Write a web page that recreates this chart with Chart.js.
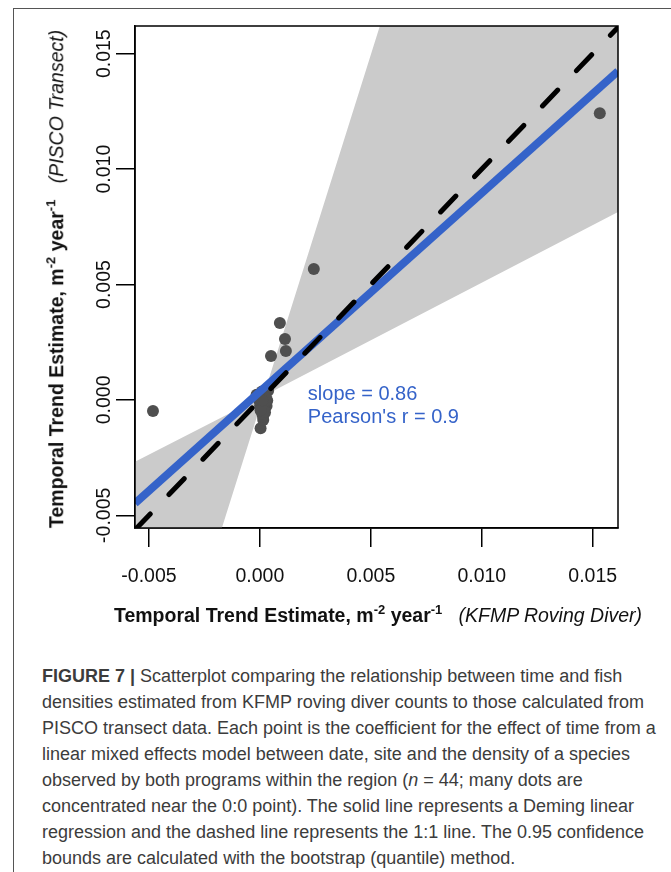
<!DOCTYPE html>
<html>
<head>
<meta charset="utf-8">
<script src="https://cdn.jsdelivr.net/npm/chart.js@4.4.1/dist/chart.umd.min.js"></script>
<style>
  html, body { margin: 0; padding: 0; background: #fff; }
  body { width: 671px; height: 872px; position: relative; overflow: hidden;
         font-family: "Liberation Sans", Arial, sans-serif; }
  #frame { position: absolute; left: 13px; top: 8px; width: 720px; height: 900px;
           border-left: 1px solid #555; border-top: 1px solid #555; }
  #wrap { position: absolute; left: 0; top: 0; width: 671px; height: 640px; }
  .ttl { position: absolute; white-space: nowrap; font-size: 19.5px; color: #111;
         transform: translate(-50%, -50%); line-height: 1; }
  .ttl b { font-weight: bold; }
  .ttl i { font-style: italic; font-weight: normal; }
  .ttl sup { font-size: 13px; vertical-align: 0; position: relative; top: -8px; }
  #ytitle { left: 57px; top: 279px; transform: translate(-50%, -50%) rotate(-90deg); }
  #xtitle { left: 378px; top: 616px; }
  #caption { position: absolute; left: 42px; top: 663px; font-size: 18px; line-height: 26px;
             color: #3c3c3c; white-space: nowrap; }
</style>
</head>
<body>
<div id="frame"></div>
<div id="wrap"><canvas id="chart" width="671" height="640"></canvas></div>
<div class="ttl" id="ytitle"><b>Temporal Trend Estimate, m<sup>-2</sup> year<sup>-1</sup></b>&nbsp;&nbsp;&nbsp;<i>(PISCO Transect)</i></div>
<div class="ttl" id="xtitle"><b>Temporal Trend Estimate, m<sup>-2</sup> year<sup>-1</sup></b>&nbsp;&nbsp;&nbsp;<i>(KFMP Roving Diver)</i></div>
<div id="caption"><b>FIGURE 7 |</b> Scatterplot comparing the relationship between time and fish<br>densities estimated from KFMP roving diver counts to those calculated from<br>PISCO transect data. Each point is the coefficient for the effect of time from a<br>linear mixed effects model between date, site and the density of a species<br>observed by both programs within the region (<i>n</i> = 44; many dots are<br>concentrated near the 0:0 point). The solid line represents a Deming linear<br>regression and the dashed line represents the 1:1 line. The 0.95 confidence<br>bounds are calculated with the bootstrap (quantile) method.</div>

<script>
// Species trend coefficients: KFMP roving diver (x) vs PISCO transect (y)
const kfmpTrend = [
  -0.00482, 0.01532, 0.00243, 0.00090, 0.00113, 0.00117, 0.00050,
  0.00003, 0.00015, 0.00023, 0.00030, 0.00033, 0.00008, -0.00015,
  0.00037, 0.00009, -0.00009, 0.00023, 0.00014, 0.00014,
  0.00002, -0.00003, 0.00010, 0.00005, 0.00012, 0.00020, 0.00000,
  0.00006, 0.00018, -0.00006, 0.00011, 0.00025, 0.00004, 0.00016,
  0.00001, 0.00021, 0.00008, 0.00013, -0.00002, 0.00019, 0.00007,
  0.00027, 0.00003, 0.00010
];
const piscoTrend = [
  -0.00048, 0.01242, 0.00567, 0.00333, 0.00264, 0.00212, 0.00190,
  -0.00123, -0.00087, -0.00055, -0.00026, -0.00003, 0.00014, 0.00022,
  0.00040, 0.00036, 0.00014, -0.00013, -0.00043, -0.00072,
  0.00005, 0.00010, -0.00010, -0.00020, 0.00002, -0.00030, -0.00005,
  0.00015, -0.00040, 0.00004, -0.00060, -0.00008, -0.00015, 0.00020,
  -0.00025, 0.00008, -0.00035, -0.00018, 0.00000, -0.00050, 0.00025,
  0.00010, -0.00045, -0.00002
];

// Deming regression line (slope 0.86) across the plotted x range
const demingX = [-0.00563, 0.01614];
const demingY = [-0.00448, 0.01424];

// 1:1 reference line
const oneToOneX = [-0.00563, 0.01620];
const oneToOneY = [-0.00563, 0.01620];

// Bootstrap (quantile) 0.95 confidence bounds
const bandX     = [-0.00563, 0.00016, 0.01614];
const bandUpper = [-0.00268, 0.00017, 0.04900];
const bandLower = [-0.01750, 0.00017, 0.00814];

// Axis limits and tick values
const xLimits = [-0.00563, 0.01614];
const yLimits = [-0.00555, 0.01620];
const xTickValues = [-0.005, 0.000, 0.005, 0.010, 0.015];
const yTickValues = [-0.005, 0.000, 0.005, 0.010, 0.015];

const fitStats = ['slope = 0.86', "Pearson's r = 0.9"];

const zip = (xs, ys) => xs.map((x, i) => ({ x: x, y: ys[i] }));
const FONT = '"Liberation Sans", Arial, sans-serif';
const BLUE = '#3563c9';

// Closed box around the plotting region
const plotBox = {
  id: 'plotBox',
  afterDatasetsDraw(chart) {
    const a = chart.chartArea, ctx = chart.ctx;
    ctx.save();
    ctx.strokeStyle = '#000';
    ctx.lineWidth = 1.5;
    ctx.strokeRect(a.left, a.top, a.right - a.left, a.bottom - a.top);
    ctx.restore();
  }
};

// Fit summary written inside the plot
const fitLabel = {
  id: 'fitLabel',
  afterDatasetsDraw(chart) {
    const ctx = chart.ctx, xs = chart.scales.x, ys = chart.scales.y;
    ctx.save();
    ctx.font = '20px ' + FONT;
    ctx.fillStyle = BLUE;
    ctx.textAlign = 'left';
    ctx.textBaseline = 'middle';
    const x0 = xs.getPixelForValue(0.00216);
    ctx.fillText(fitStats[0], x0, ys.getPixelForValue(0.00022));
    ctx.fillText(fitStats[1], x0, ys.getPixelForValue(-0.00078));
    ctx.restore();
  }
};

const tickFmt = v => Number(v).toFixed(3);

new Chart(document.getElementById('chart'), {
  type: 'line',
  data: {
    datasets: [
      { label: 'upper bound', data: zip(bandX, bandUpper), borderWidth: 0,
        borderColor: 'rgba(0,0,0,0)', pointRadius: 0, fill: '+1',
        backgroundColor: '#cbcbcb', order: 5, clip: 0, tension: 0 },
      { label: 'lower bound', data: zip(bandX, bandLower), borderWidth: 0,
        borderColor: 'rgba(0,0,0,0)', pointRadius: 0, fill: false, order: 4, clip: 0 },
      { label: 'species', data: zip(kfmpTrend, piscoTrend), showLine: false,
        pointRadius: 6, pointBackgroundColor: '#4f4f4f', pointBorderWidth: 0,
        order: 3, clip: 0 },
      { label: 'Deming fit', data: zip(demingX, demingY), borderColor: BLUE,
        borderWidth: 8, pointRadius: 0, fill: false, order: 2, clip: 0 },
      { label: '1:1', data: zip(oneToOneX, oneToOneY), borderColor: '#000',
        borderWidth: 5, borderDash: [22, 27], borderCapStyle: 'round',
        pointRadius: 0, fill: false, order: 1, clip: 0 }
    ]
  },
  options: {
    responsive: false,
    animation: false,
    events: [],
    layout: { padding: { left: 0, top: 26, right: 53, bottom: 0 } },
    plugins: { legend: { display: false }, tooltip: { enabled: false } },
    scales: {
      x: {
        type: 'linear', min: xLimits[0], max: xLimits[1],
        afterBuildTicks: s => { s.ticks = xTickValues.map(v => ({ value: v })); },
        afterFit: s => { s.height = 112; },
        ticks: { callback: tickFmt, font: { family: FONT, size: 19.5 }, color: '#111',
                 padding: 18, maxRotation: 0, autoSkip: false },
        grid: { display: true, drawOnChartArea: false, drawTicks: true,
                tickLength: 19, color: '#000', lineWidth: 1.5 },
        border: { display: true, color: '#000', width: 1.5 }
      },
      y: {
        type: 'linear', min: yLimits[0], max: yLimits[1],
        afterBuildTicks: s => { s.ticks = yTickValues.map(v => ({ value: v })); },
        afterFit: s => { s.width = 135; },
        ticks: { callback: tickFmt, font: { family: FONT, size: 19.5 }, color: '#111',
                 padding: -16, minRotation: 90, maxRotation: 90,
                 crossAlign: 'center', autoSkip: false },
        grid: { display: true, drawOnChartArea: false, drawTicks: true,
                tickLength: 19, color: '#000', lineWidth: 1.5 },
        border: { display: true, color: '#000', width: 1.5 }
      }
    }
  },
  plugins: [plotBox, fitLabel]
});
</script>
</body>
</html>
